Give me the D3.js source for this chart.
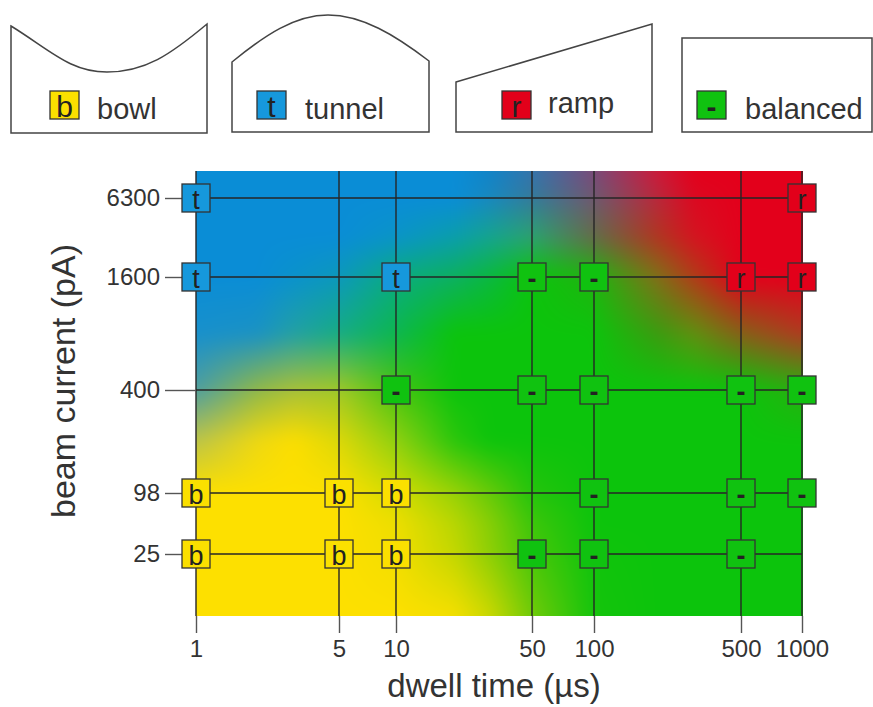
<!DOCTYPE html>
<html>
<head>
<meta charset="utf-8">
<script src="https://cdn.jsdelivr.net/npm/d3@7"></script>
<style>
  body { margin: 0; background: #fff; }
  text { font-family: "Liberation Sans", Arial, sans-serif; fill: #333; }
</style>
</head>
<body>
<svg id="chart" width="873" height="707"></svg>
<script>
// ---- data ----
var dwellTicks = [1, 5, 10, 50, 100, 500, 1000];
var currentTicks = [25, 98, 400, 1600, 6300];

var profiles = ["bowl", "tunnel", "ramp", "balanced"];
var profileLetters = ["b", "t", "r", "-"];
var profileColors = ["#fbe000", "#1698dc", "#e2001a", "#10c210"];

// [dwell (us), beam current (pA), profile]
var observations = [
    [1, 6300, "tunnel"], [1000, 6300, "ramp"],
    [1, 1600, "tunnel"], [10, 1600, "tunnel"], [50, 1600, "balanced"], [100, 1600, "balanced"],
    [500, 1600, "ramp"], [1000, 1600, "ramp"],
    [10, 400, "balanced"], [50, 400, "balanced"], [100, 400, "balanced"], [500, 400, "balanced"], [1000, 400, "balanced"],
    [1, 98, "bowl"], [5, 98, "bowl"], [10, 98, "bowl"], [100, 98, "balanced"], [500, 98, "balanced"], [1000, 98, "balanced"],
    [1, 25, "bowl"], [5, 25, "bowl"], [10, 25, "bowl"], [50, 25, "balanced"], [100, 25, "balanced"], [500, 25, "balanced"]
];

// background colour sampled on a grid (rows = current, cols = dwell)
var fieldDwell = [1, 2, 3, 5, 10, 20, 30, 50, 100, 200, 300, 500, 1000];
var fieldCurrent = [10000, 6300, 3200, 1600, 800, 400, 200, 98, 50, 25, 6.3];
var B = "#0a8dd6", G = "#0cc40c", Y = "#fde000", R = "#e3001b";
var fieldColors = [
    [B, B, B, B, B, B, "#1084c8", "#3574ac", "#7a4a7a", "#cc1a3a", R, R, R],
    [B, B, B, B, B, B, "#1888c0", "#347a9c", "#6e5870", "#b8283c", "#dc0820", R, R],
    [B, B, B, B, "#0a94c8", "#0a9eac", "#14a490", "#2ca270", "#646c48", "#b03620", "#d41420", R, R],
    [B, B, "#0a92cc", "#0c98bc", "#0aac80", "#0cb060", "#0ab840", G, "#20b410", "#807018", "#b03c18", R, R],
    ["#1890cc", "#1a92c4", "#22a0a4", "#16ac84", "#0cb650", G, G, G, G, "#3a9c10", "#609010", "#866018", "#b03a20"],
    ["#4e9ea0", "#90b848", "#a8c038", "#a0c828", "#48c410", G, G, G, G, G, G, G, "#28b010"],
    ["#bcc448", "#eed812", "#fcde00", "#dcd808", "#90d010", "#2ac60c", G, G, G, G, G, G, G],
    [Y, Y, Y, Y, "#d4dc00", "#98d206", "#68ca08", "#24c40c", G, G, G, G, G],
    [Y, Y, Y, Y, "#eede00", "#b8d602", "#88ce06", "#3cc60a", G, G, G, G, G],
    [Y, Y, Y, Y, "#f2de00", "#c4d700", "#90cf05", "#48c709", "#10c40c", G, G, G, G],
    [Y, Y, Y, Y, Y, "#f4df00", "#ccd800", "#70ca08", "#14c40c", G, G, G, G]
];

// ---- layout ----
var svg = d3.select("#chart");

var x = d3.scaleLog().domain(dwellTicks).range([196, 339, 396, 532, 594, 741, 802]);
var y = d3.scaleLog().domain(currentTicks).range([554, 493, 390, 277, 198]);

var plotLeft = Math.round(x(1)),
    plotRight = Math.round(x(1000)) + 1,
    plotTop = Math.round(y(d3.max(fieldCurrent))),
    plotBottom = Math.round(y(d3.min(fieldCurrent)));

// ---- background field ----
function drawField() {
    var w = plotRight - plotLeft, h = plotBottom - plotTop;
    var cols = fieldDwell.map(function(d) { return x(d); });
    var rows = fieldCurrent.map(function(d) { return y(d); });
    var rgb = fieldColors.map(function(r) { return r.map(function(c) { return d3.rgb(c); }); });

    function seg(arr, v) {
        var i = d3.bisectRight(arr, v) - 1;
        i = Math.max(0, Math.min(arr.length - 2, i));
        var t = (v - arr[i]) / (arr[i + 1] - arr[i]);
        return [i, Math.max(0, Math.min(1, t))];
    }

    var buf = new Float32Array(w * h * 3);
    for (var j = 0; j < h; j++) {
        var sy = seg(rows, plotTop + j + 0.5);
        for (var i = 0; i < w; i++) {
            var sx = seg(cols, plotLeft + i + 0.5);
            var c00 = rgb[sy[0]][sx[0]], c01 = rgb[sy[0]][sx[0] + 1],
                c10 = rgb[sy[0] + 1][sx[0]], c11 = rgb[sy[0] + 1][sx[0] + 1];
            var k = (j * w + i) * 3;
            ["r", "g", "b"].forEach(function(ch, n) {
                var top = c00[ch] + (c01[ch] - c00[ch]) * sx[1];
                var bot = c10[ch] + (c11[ch] - c10[ch]) * sx[1];
                buf[k + n] = top + (bot - top) * sy[1];
            });
        }
    }

    // soften the creases of the bilinear grid
    function blur(src, horizontal, r) {
        var out = new Float32Array(src.length);
        for (var j = 0; j < h; j++) {
            for (var i = 0; i < w; i++) {
                var s0 = 0, s1 = 0, s2 = 0;
                for (var d = -r; d <= r; d++) {
                    var ii = horizontal ? Math.max(0, Math.min(w - 1, i + d)) : i;
                    var jj = horizontal ? j : Math.max(0, Math.min(h - 1, j + d));
                    var q = (jj * w + ii) * 3;
                    s0 += src[q]; s1 += src[q + 1]; s2 += src[q + 2];
                }
                var p = (j * w + i) * 3, n = 2 * r + 1;
                out[p] = s0 / n; out[p + 1] = s1 / n; out[p + 2] = s2 / n;
            }
        }
        return out;
    }
    for (var pass = 0; pass < 2; pass++) {
        buf = blur(buf, true, 8);
        buf = blur(buf, false, 8);
    }

    var canvas = document.createElement("canvas");
    canvas.width = w; canvas.height = h;
    var ctx = canvas.getContext("2d");
    var img = ctx.createImageData(w, h);
    for (var p = 0; p < w * h; p++) {
        img.data[p * 4] = buf[p * 3];
        img.data[p * 4 + 1] = buf[p * 3 + 1];
        img.data[p * 4 + 2] = buf[p * 3 + 2];
        img.data[p * 4 + 3] = 255;
    }
    ctx.putImageData(img, 0, 0);

    svg.append("image")
        .attr("x", plotLeft).attr("y", plotTop)
        .attr("width", w).attr("height", h)
        .attr("preserveAspectRatio", "none")
        .attr("href", canvas.toDataURL());
}
drawField();

// ---- grid lines ----
svg.append("g").selectAll("line.v")
    .data(dwellTicks)
    .enter().append("line")
    .attr("x1", function(d) { return x(d); })
    .attr("x2", function(d) { return x(d); })
    .attr("y1", plotTop)
    .attr("y2", plotBottom)
    .attr("stroke", "#262626").attr("stroke-width", 1.4);

svg.append("g").selectAll("line.h")
    .data(currentTicks)
    .enter().append("line")
    .attr("x1", plotLeft)
    .attr("x2", x(1000))
    .attr("y1", function(d) { return y(d); })
    .attr("y2", function(d) { return y(d); })
    .attr("stroke", "#262626").attr("stroke-width", 1.4);

// ---- axes ----
var yAxis = svg.append("g")
    .attr("transform", "translate(" + plotLeft + ",0)")
    .call(d3.axisLeft(y).tickValues(currentTicks).tickFormat(d3.format("d")).tickSize(31).tickPadding(5));
var xAxis = svg.append("g")
    .attr("transform", "translate(0," + plotBottom + ")")
    .call(d3.axisBottom(x).tickValues(dwellTicks).tickFormat(d3.format("d")).tickSize(17).tickPadding(7));

[yAxis, xAxis].forEach(function(a) {
    a.select(".domain").remove();
    a.selectAll("line").attr("stroke", "#555").attr("stroke-width", 1.4);
    a.selectAll("text")
        .style("font-family", "'Liberation Sans', Arial, sans-serif")
        .style("font-size", "24px")
        .attr("fill", "#333");
});

svg.append("text")
    .attr("x", 494).attr("y", 697)
    .attr("text-anchor", "middle")
    .style("font-size", "33px")
    .text("dwell time (µs)");

svg.append("text")
    .attr("transform", "translate(75,381) rotate(-90)")
    .attr("text-anchor", "middle")
    .style("font-size", "34px")
    .text("beam current (pA)");

// ---- markers ----
function profileIndex(name) { return profiles.indexOf(name); }

function marker(g, idx, size, fontSize, baseline) {
    g.append("rect")
        .attr("x", -size[0] / 2).attr("y", -size[1] / 2)
        .attr("width", size[0]).attr("height", size[1])
        .attr("fill", profileColors[idx])
        .attr("stroke", "#333").attr("stroke-width", 1.3);
    g.append("text")
        .attr("text-anchor", "middle")
        .attr("y", baseline)
        .style("font-size", fontSize + "px")
        .style("font-weight", profileLetters[idx] === "-" ? "bold" : "normal")
        .style("fill", "#222")
        .text(profileLetters[idx]);
}

svg.append("g").selectAll("g.obs")
    .data(observations)
    .enter().append("g")
    .attr("transform", function(d) { return "translate(" + x(d[0]) + "," + y(d[1]) + ")"; })
    .each(function(d) { marker(d3.select(this), profileIndex(d[2]), [28, 28], 27, 10.5); });

// ---- legend: schematic profile shapes ----
var legendShapes = [
    { path: "M11,26 C50,50 70,72 107,72 C145,72 170,55 207,24 L207,133 L11,133 Z", mx: 64.5, tx: 97, ty: 119 },
    { path: "M232,62 C265,35 295,15 328,15 C362,15 395,35 429,61 L429,132 L232,132 Z", mx: 271.5, tx: 305, ty: 119 },
    { path: "M456,82 L652,24 L652,132 L456,132 Z", mx: 516.5, tx: 548, ty: 113 },
    { path: "M682,38 L872,38 L872,132 L682,132 Z", mx: 711.5, tx: 745, ty: 119 }
];

var legend = svg.append("g").selectAll("g.leg")
    .data(profiles)
    .enter().append("g");

legend.append("path")
    .attr("d", function(d, i) { return legendShapes[i].path; })
    .attr("fill", "none")
    .attr("stroke", "#444").attr("stroke-width", 1.5);

legend.each(function(d, i) {
    var m = d3.select(this).append("g")
        .attr("transform", "translate(" + legendShapes[i].mx + ",105)");
    marker(m, i, [29, 28], 30, 12);
});

legend.append("text")
    .attr("x", function(d, i) { return legendShapes[i].tx; })
    .attr("y", function(d, i) { return legendShapes[i].ty; })
    .style("font-size", "29px")
    .text(function(d) { return d; });
</script>
</body>
</html>
